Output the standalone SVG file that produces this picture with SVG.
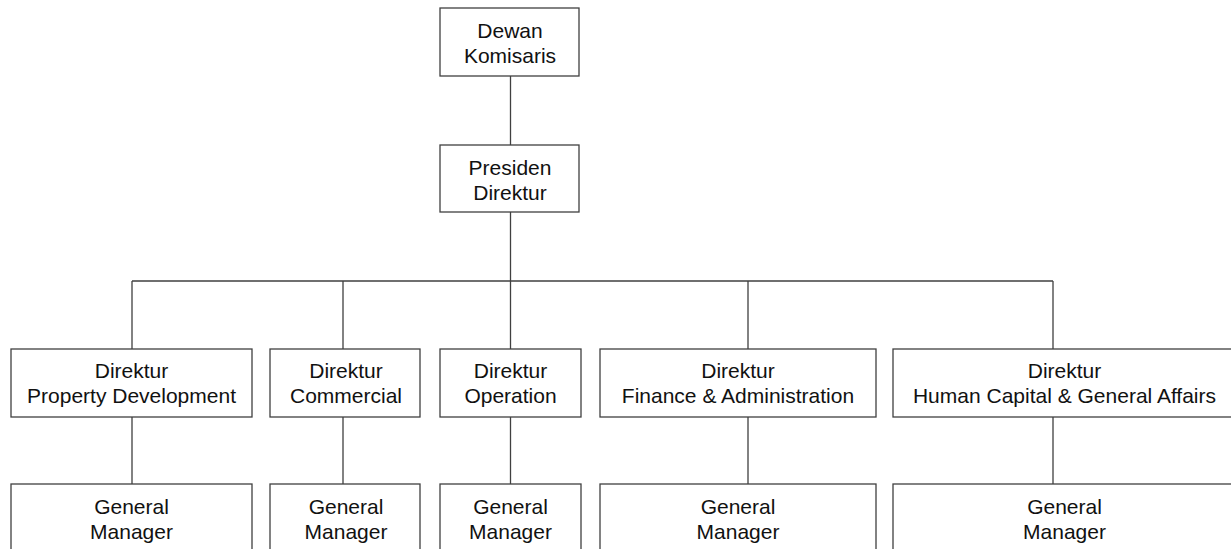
<svg xmlns="http://www.w3.org/2000/svg" width="1231" height="549" viewBox="0 0 1231 549">
<style>
.box{fill:#ffffff;stroke:#404040;stroke-width:1.3}
.lbl{font-family:"Liberation Sans",Arial,sans-serif;font-size:21px;fill:#111111;text-anchor:middle}
.con{fill:none;stroke:#404040;stroke-width:1.3}
</style>
<rect width="1231" height="549" fill="#ffffff"/>
<g id="connectors">
<path class="con" d="M510.5 76V145M510.5 212V281M132 281H1053M132 281V349M343 281V349M510.5 281V349M748 281V349M1053 281V349"/>
<path class="con" d="M132 417V484M343 417V484M510.5 417V484M748 417V484M1053 417V484"/>
</g>
<g id="dewan-komisaris">
<rect class="box" x="440" y="8" width="139" height="68"/>
<text class="lbl" x="510" y="38">Dewan</text>
<text class="lbl" x="510" y="63">Komisaris</text>
</g>
<g id="presiden-direktur">
<rect class="box" x="440" y="145" width="139" height="67"/>
<text class="lbl" x="510" y="175">Presiden</text>
<text class="lbl" x="510" y="200">Direktur</text>
</g>
<g id="dir-property">
<rect class="box" x="11" y="349" width="241" height="68"/>
<text class="lbl" x="131.5" y="378">Direktur</text>
<text class="lbl" x="131.5" y="403">Property Development</text>
</g>
<g id="dir-commercial">
<rect class="box" x="270" y="349" width="150" height="68"/>
<text class="lbl" x="346" y="378">Direktur</text>
<text class="lbl" x="346" y="403">Commercial</text>
</g>
<g id="dir-operation">
<rect class="box" x="440" y="349" width="141" height="68"/>
<text class="lbl" x="510.5" y="378">Direktur</text>
<text class="lbl" x="510.5" y="403">Operation</text>
</g>
<g id="dir-finance">
<rect class="box" x="600" y="349" width="276" height="68"/>
<text class="lbl" x="738" y="378">Direktur</text>
<text class="lbl" x="738" y="403">Finance &amp; Administration</text>
</g>
<g id="dir-human-capital">
<rect class="box" x="893" y="349" width="343" height="68"/>
<text class="lbl" x="1064.5" y="378">Direktur</text>
<text class="lbl" x="1064.5" y="403">Human Capital &amp; General Affairs</text>
</g>
<g id="gm-property">
<rect class="box" x="11" y="484" width="241" height="70"/>
<text class="lbl" x="131.5" y="514">General</text>
<text class="lbl" x="131.5" y="539">Manager</text>
</g>
<g id="gm-commercial">
<rect class="box" x="270" y="484" width="150" height="70"/>
<text class="lbl" x="346" y="514">General</text>
<text class="lbl" x="346" y="539">Manager</text>
</g>
<g id="gm-operation">
<rect class="box" x="440" y="484" width="141" height="70"/>
<text class="lbl" x="510.5" y="514">General</text>
<text class="lbl" x="510.5" y="539">Manager</text>
</g>
<g id="gm-finance">
<rect class="box" x="600" y="484" width="276" height="70"/>
<text class="lbl" x="738" y="514">General</text>
<text class="lbl" x="738" y="539">Manager</text>
</g>
<g id="gm-human-capital">
<rect class="box" x="893" y="484" width="343" height="70"/>
<text class="lbl" x="1064.5" y="514">General</text>
<text class="lbl" x="1064.5" y="539">Manager</text>
</g>
</svg>
